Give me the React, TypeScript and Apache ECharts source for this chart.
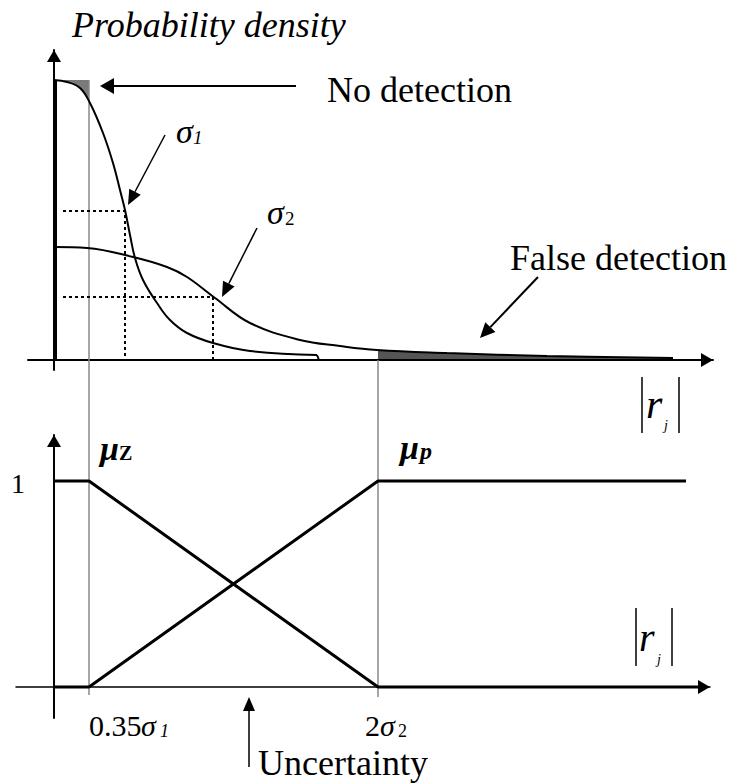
import React, { useEffect, useRef } from 'react';
import * as echarts from 'echarts';

// ---- data (x in units where sigma1 = 1, y = density / membership) ----
const sigma1Curve: number[][] = [
  [0, 2.8], [0.13, 2.78], [0.26, 2.72], [0.36, 2.57], [0.49, 2.27], [0.59, 1.97],
  [0.66, 1.7], [0.71, 1.5], [0.76, 1.25], [0.81, 1.02], [0.89, 0.8], [1.03, 0.57],
  [1.16, 0.4], [1.33, 0.27], [1.59, 0.17], [1.96, 0.09], [2.63, 0.05],
];
const sigma1Tail: number[][] = [[2.63, 0.05], [2.65, 0]];
const sigma2Curve: number[][] = [
  [0, 1.13], [0.33, 1.12], [0.79, 1.03], [1.13, 0.93], [1.33, 0.83], [1.61, 0.62],
  [1.96, 0.37], [2.46, 0.2], [2.86, 0.14], [3.23, 0.1], [3.93, 0.07], [4.93, 0.04], [6.19, 0.02],
];
const leftEdge: number[][] = [[0.01, 0], [0.01, 2.8]];
const noDetectionArea: number[][] = [[0, 2.8], [0.13, 2.78], [0.26, 2.72], [0.35, 2.58]];
const falseDetectionArea: number[][] = [[3.24, 0.1], [3.93, 0.07], [4.93, 0.04], [6.19, 0.02]];
const dotted1: number[][] = [[0.09, 1.49], [0.71, 1.49], [0.71, 0]];
const dotted2: number[][] = [[0.09, 0.63], [1.59, 0.63], [1.59, 0]];
const thresholdLow: number[][] = [[0.35, 2.8], [0.35, -3.35]];
const thresholdHigh: number[][] = [[3.24, 0], [3.24, -3.37]];
const muZ: number[][] = [[0, 1], [0.35, 1], [3.24, 0], [6.44, 0]];
const muP: number[][] = [[0, 0], [0.35, 0], [3.24, 1], [6.32, 1]];
const yTickLabel = '1';

const FONT = '"Liberation Serif", "Times New Roman", serif';

function arrow(x1: number, y1: number, x2: number, y2: number, len: number, half: number, width: number) {
  const dx = x2 - x1, dy = y2 - y1;
  const d = Math.hypot(dx, dy);
  const ux = dx / d, uy = dy / d;
  const bx = x2 - ux * len, by = y2 - uy * len;
  return [
    { type: 'line', shape: { x1, y1, x2: bx, y2: by }, style: { stroke: '#000', lineWidth: width } },
    {
      type: 'polygon',
      shape: { points: [[x2, y2], [bx - uy * half, by + ux * half], [bx + uy * half, by - ux * half]] },
      style: { fill: '#000' },
    },
  ];
}

function txt(left: number, top: number, text: string, extra: any = {}) {
  return {
    type: 'text', x: left, y: top,
    style: { text, fill: '#000', fontFamily: FONT, fontSize: 36, verticalAlign: 'middle', align: 'left', ...extra },
  };
}

function bar(x: number, y1: number, y2: number) {
  return { type: 'line', shape: { x1: x, y1, x2: x, y2 }, style: { stroke: '#000', lineWidth: 1.5 } };
}

const App: React.FC = () => {
  const ref = useRef<HTMLDivElement>(null);
  useEffect(() => {
    if (!ref.current) return;
    const chart = echarts.init(ref.current, undefined, { renderer: 'svg' });
    const axisLineBase = (width: number) => ({
      show: true, onZero: true,
      lineStyle: { color: '#000', width },
      symbol: ['none', 'triangle'], symbolSize: [14, 12], symbolOffset: [0, -6],
    });
    const hidden = { axisTick: { show: false }, axisLabel: { show: false }, splitLine: { show: false } };
    const lineSeries = (data: number[][], idx: number, color: string, width: number, extra: any = {}) => ({
      type: 'line', data, xAxisIndex: idx, yAxisIndex: idx, showSymbol: false, symbol: 'none',
      lineStyle: { color, width }, silent: true, ...extra,
    });
    const option: any = {
      animation: false,
      backgroundColor: '#fff',
      grid: [
        { left: 28, right: 21, top: 50, bottom: 413, outerBoundsMode: 'none', containLabel: false },
        { left: 16, right: 24, top: 435, bottom: 65, outerBoundsMode: 'none', containLabel: false },
      ],
      xAxis: [
        { type: 'value', gridIndex: 0, min: -0.26, max: 6.59, axisLine: axisLineBase(2), ...hidden },
        { type: 'value', gridIndex: 1, min: -0.38, max: 6.56, axisLine: axisLineBase(1.5), ...hidden },
      ],
      yAxis: [
        { type: 'value', gridIndex: 0, min: -0.1, max: 3.1, axisLine: axisLineBase(2), ...hidden },
        { type: 'value', gridIndex: 1, min: -0.1505, max: 1.2233, axisLine: axisLineBase(2), ...hidden },
      ],
      series: [
        lineSeries(thresholdLow, 0, '#888', 1.5, { clip: false, z: 1 }),
        lineSeries(thresholdHigh, 0, '#888', 1.5, { clip: false, z: 1 }),
        lineSeries(noDetectionArea, 0, '#777', 0, { smooth: 0.4, areaStyle: { color: '#7a7a7a', opacity: 1, origin: 2.8 }, z: 0 }),
        lineSeries(falseDetectionArea, 0, '#555', 0, { smooth: 0.4, areaStyle: { color: '#555', opacity: 1 }, z: 0 }),
        lineSeries(dotted1, 0, '#000', 2, { lineStyle: { color: '#000', width: 2, type: [3, 3] } }),
        lineSeries(dotted2, 0, '#000', 2, { lineStyle: { color: '#000', width: 2, type: [3, 3] } }),
        lineSeries(sigma1Curve, 0, '#000', 2, { smooth: 0.4, z: 3 }),
        lineSeries(sigma1Tail, 0, '#000', 2, { z: 3 }),
        lineSeries(sigma2Curve, 0, '#000', 2, { smooth: 0.4, z: 3 }),
        lineSeries(leftEdge, 0, '#000', 4, { z: 3 }),
        lineSeries(muZ, 1, '#000', 3, { z: 3 }),
        lineSeries(muP, 1, '#000', 3, { z: 3 }),
      ],
      graphic: [
        txt(72, 25, 'Probability density', { fontStyle: 'italic', fontSize: 36 }),
        txt(327, 90, 'No detection'),
        txt(510, 258, 'False detection'),
        txt(258, 763, 'Uncertainty'),
        ...arrow(296, 86, 100, 86, 14, 8, 2),
        ...arrow(165, 135, 128, 205, 15, 6.5, 1.5),
        ...arrow(257, 228, 222, 297, 15, 6.5, 1.5),
        ...arrow(538, 277, 480, 338, 15, 7, 2),
        ...arrow(249, 767, 249, 697, 14, 6, 1.5),
        // y tick label of the membership panel
        txt(11, 483, yTickLabel, { fontSize: 28 }),
        // sigma labels
        txt(176, 131, 'σ', { fontStyle: 'italic', fontSize: 34 }),
        txt(193, 137, '1', { fontStyle: 'italic', fontSize: 19 }),
        txt(267, 212, 'σ', { fontStyle: 'italic', fontSize: 34 }),
        txt(285, 218, '2', { fontSize: 19 }),
        // mu labels
        txt(100, 448, 'μ', { fontStyle: 'italic', fontWeight: 'bold', fontSize: 34 }),
        txt(119, 453, 'Z', { fontWeight: 'bold', fontSize: 20 }),
        txt(400, 447, 'μ', { fontStyle: 'italic', fontWeight: 'bold', fontSize: 34 }),
        txt(420, 451, 'p', { fontStyle: 'italic', fontWeight: 'bold', fontSize: 24 }),
        // x labels of bottom panel
        txt(89, 725, '0.35', { fontSize: 30 }),
        txt(141, 725, 'σ', { fontStyle: 'italic', fontSize: 30 }),
        txt(160, 731, '1', { fontStyle: 'italic', fontSize: 18 }),
        txt(365, 725, '2', { fontSize: 30 }),
        txt(380, 725, 'σ', { fontStyle: 'italic', fontSize: 30 }),
        txt(398, 731, '2', { fontSize: 18 }),
        // |r_j| labels
        bar(642, 377, 433), bar(679, 377, 433),
        txt(646, 404, 'r', { fontStyle: 'italic', fontSize: 42 }),
        txt(664, 425, 'j', { fontStyle: 'italic', fontSize: 14 }),
        bar(636, 608, 666), bar(672, 608, 666),
        txt(639, 637, 'r', { fontStyle: 'italic', fontSize: 40 }),
        txt(657, 659, 'j', { fontStyle: 'italic', fontSize: 14 }),
      ],
    };
    chart.setOption(option);
    return () => chart.dispose();
  }, []);
  return <div ref={ref} style={{ position: 'absolute', left: 0, top: 0, width: 734, height: 783, background: '#fff' }} />;
};

export default App;
